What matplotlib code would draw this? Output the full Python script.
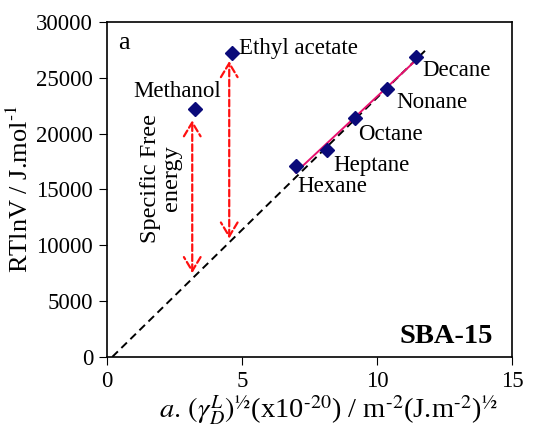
import matplotlib
matplotlib.use("Agg")
import matplotlib.pyplot as plt
import numpy as np

plt.rcParams['font.family'] = ['Liberation Serif', 'DejaVu Serif']
plt.rcParams['mathtext.fontset'] = 'stix'

# probe molecules
names = ['Methanol', 'Ethyl acetate', 'Hexane', 'Heptane', 'Octane', 'Nonane', 'Decane']
xv = [3.26, 4.64, 6.99, 8.16, 9.20, 10.38, 11.43]
yv = [22200, 27200, 17100, 18500, 21400, 24000, 26900]

# label anchors (left/center) for each probe
lab_x = [2.61, 4.89, 7.04, 8.37, 9.30, 10.70, 11.69]
lab_y = [23820, 27600, 15220, 17100, 19925, 22790, 25650]
lab_ha = ['center', 'left', 'left', 'left', 'left', 'left', 'left']

# reference (alkane) line shown dashed
ref_x = [0.2, 11.9]
ref_slope = 2368

# specific free energy arrows: x, bottom, top
arr_x = [3.16, 4.53]
arr_lo = [7500, 10600]
arr_hi = [21200, 26500]

fig = plt.figure(figsize=(5.4, 4.32), dpi=100)
ax = fig.add_axes([0.198, 0.174, 0.75, 0.775])

rx = np.array(ref_x)
ax.plot(rx, ref_slope * (rx - ref_x[0]), '--', color='black', lw=1.4, dashes=(4, 2.5), zorder=2)

alk_x = np.array(xv[2:])
alk_y = np.array(yv[2:])
k, b = np.polyfit(alk_x, alk_y, 1)
ax.plot(alk_x[[0, -1]], k * alk_x[[0, -1]] + b, color='#e8106e', lw=1.4, zorder=3)

ax.plot(xv, yv, 'D', color='#0a0a7a', markersize=7.5, zorder=4, linestyle='none')

for xa, lo, hi in zip(arr_x, arr_lo, arr_hi):
    ax.annotate('', xy=(xa, hi), xytext=(xa, lo),
                arrowprops=dict(arrowstyle='<->,head_length=1.0,head_width=0.6',
                                color='#ff1010', lw=1.6, linestyle=(0, (3, 1.5)),
                                shrinkA=0, shrinkB=0))

for n, lx, ly, ha in zip(names, lab_x, lab_y, lab_ha):
    ax.text(lx, ly, n, fontsize=16.5, ha=ha, va='center')

ax.text(2.0, 16000, 'Specific Free\nenergy', rotation=90, fontsize=17.5,
        ha='center', va='center', linespacing=0.95)
ax.text(0.41, 28120, 'a', fontsize=19, ha='left', va='center')
ax.text(14.3, 1790, 'SBA-15', fontsize=20.5, fontweight='bold', ha='right', va='center')

ax.set_xlim(0, 15)
ax.set_ylim(0, 30000)
ax.set_xticks([0, 5, 10, 15])
ax.set_yticks(np.arange(0, 30001, 5000))
ax.tick_params(labelsize=16.5, direction='out', length=6, pad=4, top=False, right=False)
for s in ax.spines.values():
    s.set_linewidth(1.2)

ax.set_ylabel(r'RTlnV / J.mol$^{\text{-1}}$', fontsize=19, labelpad=2)
ax.set_xlabel(r'$a.\,(\gamma_D^L)^{½}$(x10$^{\text{-20}}$) / m$^{\text{-2}}$(J.m$^{\text{-2}}$)$^{½}$',
              fontsize=20.5, labelpad=2)
ax.xaxis.set_label_coords(0.546, -0.105)

fig.savefig('out.png', dpi=100)
